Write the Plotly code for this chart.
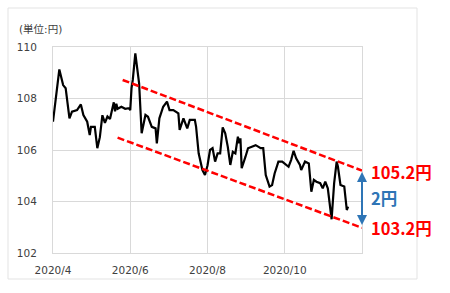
import plotly.graph_objects as go

# ---- data (USD/JPY) ----
dates = [
    "2020-04-01", "2020-04-06", "2020-04-09", "2020-04-11", "2020-04-14", "2020-04-16",
    "2020-04-20", "2020-04-23", "2020-04-25", "2020-04-28", "2020-04-30", "2020-05-01",
    "2020-05-04", "2020-05-06", "2020-05-08", "2020-05-10", "2020-05-12", "2020-05-14",
    "2020-05-16", "2020-05-19", "2020-05-20", "2020-05-21", "2020-05-22", "2020-05-25",
    "2020-05-28", "2020-05-31", "2020-06-01", "2020-06-02", "2020-06-03", "2020-06-05",
    "2020-06-08", "2020-06-10", "2020-06-13", "2020-06-15", "2020-06-18", "2020-06-21",
    "2020-06-22", "2020-06-24", "2020-06-27", "2020-06-30", "2020-07-02", "2020-07-05",
    "2020-07-09", "2020-07-10", "2020-07-13", "2020-07-16", "2020-07-18", "2020-07-22",
    "2020-07-23", "2020-07-25", "2020-07-28", "2020-07-30", "2020-08-01", "2020-08-03",
    "2020-08-05", "2020-08-07", "2020-08-09", "2020-08-11", "2020-08-13", "2020-08-15",
    "2020-08-17", "2020-08-19", "2020-08-21", "2020-08-23", "2020-08-25", "2020-08-26",
    "2020-08-27", "2020-08-28", "2020-08-31", "2020-09-02", "2020-09-05", "2020-09-08",
    "2020-09-10", "2020-09-12", "2020-09-14", "2020-09-15", "2020-09-16", "2020-09-19",
    "2020-09-21", "2020-09-23", "2020-09-26", "2020-09-29", "2020-10-01", "2020-10-04",
    "2020-10-06", "2020-10-08", "2020-10-10", "2020-10-13", "2020-10-14", "2020-10-17",
    "2020-10-20", "2020-10-21", "2020-10-22", "2020-10-24", "2020-10-26", "2020-10-29",
    "2020-10-31", "2020-11-02", "2020-11-04", "2020-11-07", "2020-11-09", "2020-11-11",
    "2020-11-12", "2020-11-14", "2020-11-17", "2020-11-19", "2020-11-20",
]
rates = [
    107.10, 109.13, 108.52, 108.40, 107.23, 107.49,
    107.55, 107.77, 107.36, 107.10, 106.58, 106.90,
    106.90, 106.07, 106.50, 107.35, 107.05, 107.30,
    107.20, 107.85, 107.50, 107.80, 107.60, 107.68,
    107.60, 107.62, 107.55, 108.40, 108.72, 109.75,
    108.59, 106.65, 107.36, 107.29, 106.90, 106.84,
    106.26, 107.23, 107.68, 107.88, 107.55, 107.55,
    107.42, 106.78, 107.23, 106.84, 107.17, 107.17,
    106.90, 105.87, 105.22, 105.03, 105.40, 106.00,
    106.07, 105.55, 105.87, 105.87, 106.88, 106.65,
    106.13, 105.42, 105.93, 105.87, 106.52, 106.26,
    106.45, 105.29, 105.74, 106.07, 106.13, 106.19,
    106.13, 106.07, 106.07, 105.61, 105.03, 104.58,
    104.64, 105.09, 105.55, 105.55, 105.48, 105.35,
    105.61, 105.97, 105.68, 105.42, 105.22, 105.55,
    105.48, 104.84, 104.38, 104.84, 104.77, 104.71,
    104.51, 104.77, 104.51, 103.31, 104.71, 105.55,
    105.35, 104.64, 104.58, 103.67, 103.80,
]

upper_dates = ["2020-05-26", "2020-12-01"]
upper_vals = [108.72, 105.20]
lower_dates = ["2020-05-22", "2020-12-01"]
lower_vals = [106.48, 102.98]

arrow_date = "2020-12-01"
arrow_top, arrow_bottom = 105.20, 103.09

label_texts = ["105.2円", "2円", "103.2円"]
label_vals = [105.16, 104.14, 102.97]
label_colors = ["#FF0000", "#2E75B6", "#FF0000"]

ytick_vals = [102, 104, 106, 108, 110]
xtick_vals = ["2020-04-01", "2020-06-01", "2020-08-01", "2020-10-01"]
xtick_text = ["2020/4", "2020/6", "2020/8", "2020/10"]
unit_label = "(単位:円)"

W, H = 450, 293
FONT = "DejaVu Sans, Noto Sans CJK JP, sans-serif"
GRID = "#d9d9d9"

fig = go.Figure()
fig.add_trace(go.Scatter(x=dates, y=rates, mode="lines",
                         line=dict(color="#000000", width=2.2), hoverinfo="skip"))
fig.add_trace(go.Scatter(x=upper_dates, y=upper_vals, mode="lines",
                         line=dict(color="#FF0000", width=2.5, dash="7px,3px")))
fig.add_trace(go.Scatter(x=lower_dates, y=lower_vals, mode="lines",
                         line=dict(color="#FF0000", width=2.5, dash="7px,3px")))

# double-headed blue arrow
fig.add_annotation(x=arrow_date, y=arrow_bottom, ax=arrow_date, ay=arrow_top,
                   xref="x", yref="y", axref="x", ayref="y", text="",
                   showarrow=True, arrowhead=2, startarrowhead=2, arrowside="end+start",
                   arrowsize=1, arrowwidth=2, arrowcolor="#2E75B6",
                   standoff=0, startstandoff=0)

for t, v, c in zip(label_texts, label_vals, label_colors):
    fig.add_annotation(x=arrow_date, y=v, xref="x", yref="y", text="<b>%s</b>" % t,
                       showarrow=False, xanchor="left", yanchor="middle", xshift=7,
                       font=dict(family="Noto Sans CJK JP, sans-serif", size=16.5, color=c))

fig.add_annotation(x=17 / W, y=1 - 29 / H, xref="paper", yref="paper", text=unit_label,
                   showarrow=False, xanchor="left", yanchor="middle",
                   font=dict(family=FONT, size=10.5, color="#404040"))

# outer chart frame
fig.add_shape(type="rect", xref="paper", yref="paper",
              x0=8 / W, x1=417 / W, y0=1 - 279 / H, y1=1 - 8 / H,
              line=dict(color="#e3e3e3", width=1), fillcolor="rgba(0,0,0,0)")

fig.update_layout(
    width=W, height=H, margin=dict(l=0, r=0, t=0, b=0, autoexpand=False),
    paper_bgcolor="white", plot_bgcolor="white", showlegend=False,
    font=dict(family=FONT, size=10.5, color="#404040"),
    xaxis=dict(domain=[53 / W, 362 / W], type="date", automargin=False,
               range=["2020-04-01", "2020-12-01"],
               tickvals=xtick_vals, ticktext=xtick_text,
               ticks="outside", ticklen=7, tickcolor="rgba(0,0,0,0)",
               showgrid=True, gridcolor=GRID, gridwidth=1,
               showline=True, linecolor=GRID, linewidth=1, mirror=True,
               zeroline=False, fixedrange=True),
    yaxis=dict(domain=[1 - 253 / H, 1 - 47 / H], range=[102, 110], automargin=False,
               tickvals=ytick_vals,
               ticks="outside", ticklen=13, tickcolor="rgba(0,0,0,0)",
               showgrid=True, gridcolor=GRID, gridwidth=1,
               showline=True, linecolor=GRID, linewidth=1, mirror=True,
               zeroline=False, fixedrange=True),
)

fig.write_html("out.html")
